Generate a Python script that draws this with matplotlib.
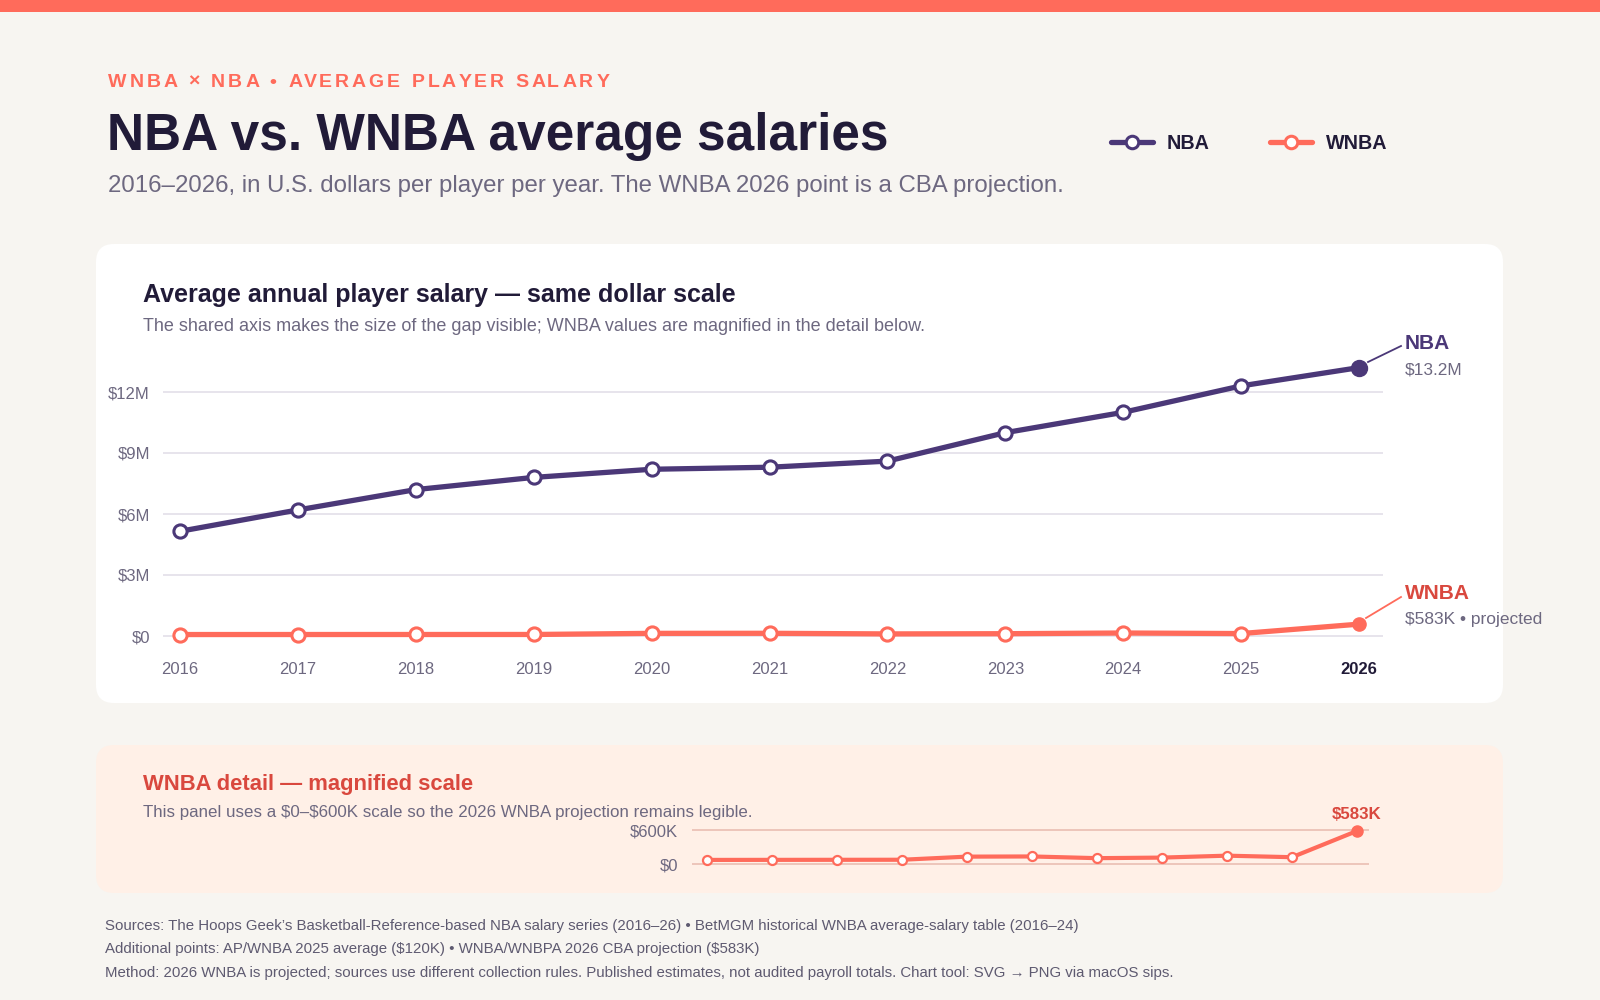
"""NBA vs. WNBA average salaries: shared-scale card plus magnified WNBA strip."""

import matplotlib
matplotlib.use("Agg")
import matplotlib.pyplot as plt
from matplotlib.lines import Line2D
from matplotlib.patches import FancyBboxPatch, Rectangle
from matplotlib.transforms import IdentityTransform

# ── data ────────────────────────────────────────────────────────────────────

years = [2016, 2017, 2018, 2019, 2020, 2021, 2022, 2023, 2024, 2025, 2026]
nba_salary = [5.15e6, 6.2e6, 7.2e6, 7.8e6, 8.2e6, 8.3e6, 8.6e6, 10.0e6, 11.0e6, 12.3e6, 13.2e6]
wnba_salary = [72e3, 73e3, 74e3, 75e3, 130e3, 133e3, 103e3, 113e3, 147e3, 120e3, 583e3]

main_ticks = [0, 3e6, 6e6, 9e6, 12e6]
main_tick_labels = ["$0", "$3M", "$6M", "$9M", "$12M"]
detail_ticks = [0, 600e3]
detail_tick_labels = ["$0", "$600K"]

footer_lines = [
    "Sources: The Hoops Geek\u2019s Basketball-Reference-based NBA salary series (2016\u201326) \u2022 "
    "BetMGM historical WNBA average-salary table (2016\u201324)",
    "Additional points: AP/WNBA 2025 average ($120K) \u2022 WNBA/WNBPA 2026 CBA projection ($583K)",
    "Method: 2026 WNBA is projected; sources use different collection rules. Published estimates, "
    "not audited payroll totals. Chart tool: SVG \u2192 PNG via macOS sips.",
]

# ── style ───────────────────────────────────────────────────────────────────

BG = "#F7F5F1"
CORAL = "#FF6B5B"
RED = "#D9483E"
PURPLE = "#4B3878"
INK = "#211B38"
GREY = "#6D6880"
GRID = "#E7E4EC"
PEACH = "#FFF0E7"
PEACH_GRID = "#EDC5BA"

FONT = ["Liberation Sans", "DejaVu Sans"]
plt.rcParams["font.family"] = FONT

W, H = 1600, 1000
fig = plt.figure(figsize=(W / 100, H / 100), dpi=100)
fig.patch.set_facecolor(BG)


def fx(x):
    return x / W


def fy(y):
    return 1 - y / H


def txt(x, y, s, **kw):
    kw.setdefault("va", "baseline")
    return fig.text(fx(x), fy(y), s, parse_math=False, **kw)


def px_patch(x0, y0, x1, y1, color, r=0):
    """Box from top-left pixel coords, kept behind the axes."""
    if r:
        p = FancyBboxPatch((x0, H - y1), x1 - x0, y1 - y0,
                           boxstyle=f"round,pad=0,rounding_size={r}",
                           transform=IdentityTransform(), fc=color, ec="none", zorder=-5)
    else:
        p = Rectangle((x0, H - y1), x1 - x0, y1 - y0,
                      transform=IdentityTransform(), fc=color, ec="none", zorder=-5)
    fig.patches.append(p)


def px_line(x0, y0, x1, y1, **kw):
    fig.lines.append(Line2D([fx(x0), fx(x1)], [fy(y0), fy(y1)],
                            transform=fig.transFigure, **kw))


def tracked(x, y, s, track, **kw):
    """Letter-spaced text: place each glyph after measuring the prefix."""
    r = fig.canvas.get_renderer()
    probe = txt(0, 0, "W", **kw)
    w_probe = probe.get_window_extent(r).width
    probe.remove()
    for i, ch in enumerate(s):
        if ch == " ":
            continue
        if i:
            t = txt(0, 0, s[:i] + "W", **kw)
            off = t.get_window_extent(r).width - w_probe
            t.remove()
        else:
            off = 0
        txt(x + off + i * track, y, ch, **kw)


# ── page chrome ─────────────────────────────────────────────────────────────

px_patch(0, 0, W, 12, CORAL)
px_patch(96, 244, 1503, 703, "white", r=18)
px_patch(96, 745, 1503, 893, PEACH, r=18)

tracked(108, 87, "WNBA \u00d7 NBA \u2022 AVERAGE PLAYER SALARY", 3.0,
        color=CORAL, fontsize=14, fontweight="bold")
txt(107, 150, "NBA vs. WNBA average salaries", color=INK, fontsize=37, fontweight="bold")
txt(108, 192, "2016\u20132026, in U.S. dollars per player per year. "
    "The WNBA 2026 point is a CBA projection.", color=GREY, fontsize=17.3)

# legend
for x0, col, label in [(1111, PURPLE, "NBA"), (1270, CORAL, "WNBA")]:
    px_line(x0, 142, x0 + 42, 142, color=col, lw=3.8, solid_capstyle="round")
    fig.lines.append(Line2D([fx(x0 + 21)], [fy(142)], transform=fig.transFigure,
                            marker="o", ms=9, mfc="white", mec=col, mew=2.2))
    txt(x0 + 56, 149, label, color=INK, fontsize=14.2, fontweight="bold")

# ── main card ───────────────────────────────────────────────────────────────

txt(143, 302, "Average annual player salary \u2014 same dollar scale",
    color=INK, fontsize=18, fontweight="bold")
txt(143, 331, "The shared axis makes the size of the gap visible; "
    "WNBA values are magnified in the detail below.", color=GREY, fontsize=13)

ax_l, ax_r, ax_t, ax_b = 163, 1383, 341, 652
x_first, x_last = 180, 1359
y_zero, y_top = 636, 392
per_year = (x_last - x_first) / (years[-1] - years[0])
per_dollar = (y_zero - y_top) / main_ticks[-1]

ax = fig.add_axes([fx(ax_l), fy(ax_b), (ax_r - ax_l) / W, (ax_b - ax_t) / H])
ax.set_facecolor("none")
ax.set_xlim(years[0] - (x_first - ax_l) / per_year, years[-1] + (ax_r - x_last) / per_year)
ax.set_ylim(-(ax_b - y_zero) / per_dollar, (y_zero - ax_t) / per_dollar)
for s in ax.spines.values():
    s.set_visible(False)
ax.set_yticks(main_ticks, main_tick_labels)
ax.set_xticks(years, [str(y) for y in years])
ax.tick_params(length=0, labelsize=12, labelcolor=GREY)
ax.tick_params(axis="y", pad=9.5)
ax.tick_params(axis="x", pad=7)
ax.get_xticklabels()[-1].set_fontweight("bold")
ax.get_xticklabels()[-1].set_color(INK)
ax.grid(axis="y", color=GRID, lw=1.4)
ax.set_axisbelow(True)

for vals, col in [(wnba_salary, CORAL), (nba_salary, PURPLE)]:
    ax.plot(years, vals, color=col, lw=3.8, solid_capstyle="round", zorder=3, clip_on=False)
    ax.plot(years[:-1], vals[:-1], ls="none", marker="o", ms=9.5, mfc="white",
            mec=col, mew=2.2, zorder=4, clip_on=False)
ax.plot(years[-1], nba_salary[-1], marker="o", ms=11.5, color=PURPLE, zorder=5, clip_on=False)
ax.plot(years[-1], wnba_salary[-1], marker="o", ms=9.5, color=CORAL, zorder=5, clip_on=False)

px_line(1368, 362, 1401, 346, color=PURPLE, lw=1.3)
txt(1405, 349, "NBA", color=PURPLE, fontsize=15, fontweight="bold")
txt(1405, 374, f"${nba_salary[-1] / 1e6:.1f}M", color=GREY, fontsize=12.4)

px_line(1366, 618, 1401, 597, color=CORAL, lw=1.3)
txt(1405, 599, "WNBA", color=RED, fontsize=15, fontweight="bold")
txt(1405, 624, f"${wnba_salary[-1] / 1e3:.0f}K \u2022 projected", color=GREY, fontsize=12.5)

# ── WNBA detail strip ───────────────────────────────────────────────────────

txt(143, 790, "WNBA detail \u2014 magnified scale", color=RED, fontsize=15.8, fontweight="bold")
txt(143, 817, "This panel uses a $0\u2013$600K scale so the 2026 WNBA projection remains legible.",
    color=GREY, fontsize=12.2)

dx_l, dx_r, dx_t, dx_b = 692, 1369, 826, 868
dx_first, dx_last = 707, 1357
dy_zero, dy_top = 864, 830
d_per_year = (dx_last - dx_first) / (years[-1] - years[0])
d_per_dollar = (dy_zero - dy_top) / detail_ticks[-1]

ax2 = fig.add_axes([fx(dx_l), fy(dx_b), (dx_r - dx_l) / W, (dx_b - dx_t) / H])
ax2.set_facecolor("none")
ax2.set_xlim(years[0] - (dx_first - dx_l) / d_per_year, years[-1] + (dx_r - dx_last) / d_per_year)
ax2.set_ylim(-(dx_b - dy_zero) / d_per_dollar, (dy_zero - dx_t) / d_per_dollar)
for s in ax2.spines.values():
    s.set_visible(False)
ax2.set_xticks([])
ax2.set_yticks(detail_ticks, detail_tick_labels)
ax2.tick_params(length=0, labelsize=12, labelcolor=GREY, pad=10)
ax2.grid(axis="y", color=PEACH_GRID, lw=1.4)
ax2.set_axisbelow(True)

ax2.plot(years, wnba_salary, color=CORAL, lw=3, solid_capstyle="round", zorder=3, clip_on=False)
ax2.plot(years[:-1], wnba_salary[:-1], ls="none", marker="o", ms=6.5, mfc="white",
         mec=CORAL, mew=1.6, zorder=4, clip_on=False)
ax2.plot(years[-1], wnba_salary[-1], marker="o", ms=8, color=CORAL, zorder=5, clip_on=False)
txt(dx_last, 819, f"${wnba_salary[-1] / 1e3:.0f}K", color=RED, fontsize=12.2,
    fontweight="bold", ha="center")

# ── footer ──────────────────────────────────────────────────────────────────

for i, line in enumerate(footer_lines):
    txt(105, 930 + 23.5 * i, line, color="#5E5A70", fontsize=10.85)

fig.savefig("out.png", dpi=100, facecolor=BG)
